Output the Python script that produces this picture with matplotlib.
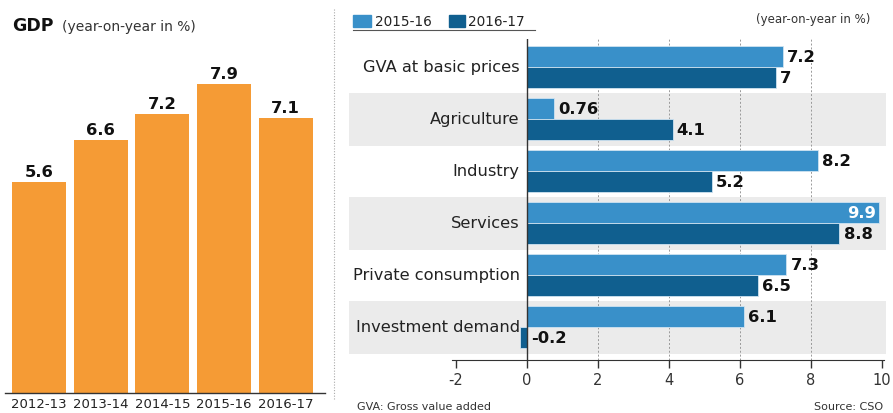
import matplotlib.pyplot as plt
import numpy as np

# left panel: GDP growth
years = ['2012-13', '2013-14', '2014-15', '2015-16', '2016-17']
gdp = [5.6, 6.6, 7.2, 7.9, 7.1]

# right panel: components
sectors = ['GVA at basic prices', 'Agriculture', 'Industry', 'Services',
           'Private consumption', 'Investment demand']
fy16 = [7.2, 0.76, 8.2, 9.9, 7.3, 6.1]
fy17 = [7.0, 4.1, 5.2, 8.8, 6.5, -0.2]
fy16_labels = ['7.2', '0.76', '8.2', '9.9', '7.3', '6.1']
fy17_labels = ['7', '4.1', '5.2', '8.8', '6.5', '-0.2']
xticks = [-2, 0, 2, 4, 6, 8, 10]

ORANGE = '#f59b35'
LIGHT = '#3990c9'
DARK = '#105f8f'
BAND = '#ebebeb'

W, H = 893, 414
fig = plt.figure(figsize=(W / 100, H / 100), dpi=100)


def box(x0, y0, x1, y1):
    # pixel box (top-left origin) -> figure fraction
    return [x0 / W, 1 - y1 / H, (x1 - x0) / W, (y1 - y0) / H]


# ---- left chart ----
ax1 = fig.add_axes(box(5, 40, 325, 394))
x = np.arange(len(years))
ax1.bar(x, gdp, width=0.877, color=ORANGE)
ax1.set_xlim(-0.552, 4.64)
ax1.set_ylim(0.64, 8.97)
for xi, v in zip(x, gdp):
    ax1.text(xi, v + 0.07, f'{v}', ha='center', va='bottom',
             fontsize=11.8, fontweight='bold', color='#111111')
for s in ['top', 'right', 'left']:
    ax1.spines[s].set_visible(False)
ax1.spines['bottom'].set_color('#333333')
ax1.spines['bottom'].set_linewidth(1.0)
ax1.set_yticks([])
ax1.set_xticks(x)
ax1.set_xticklabels(years, fontsize=9.5, color='#222222')
ax1.tick_params(axis='x', length=0, pad=3)

fig.text(12 / W, 1 - 26 / H, 'GDP', fontsize=12.5, fontweight='bold',
         va='center', ha='left', color='#111111')
fig.text(62 / W, 1 - 27 / H, '(year-on-year in %)', fontsize=10,
         va='center', ha='left', color='#333333')

# dotted separator
fig.add_artist(plt.Line2D([334 / W, 334 / W], [1 - 10 / H, 1 - 400 / H],
                          color='#aaaaaa', lw=0.8, ls=(0, (1, 1.5))))

# ---- right chart ----
ax2 = fig.add_axes(box(349, 40, 886, 361))
y = np.arange(len(sectors))
h = 0.4
for i in range(1, len(sectors), 2):
    ax2.axhspan(i - 0.5, i + 0.52, color=BAND, zorder=0, lw=0)
for gx in [2, 4, 6, 8]:
    ax2.axvline(gx, color='#999999', lw=0.7, ls=(0, (2, 2)), zorder=1)
ax2.barh(y - h / 2, fy16, height=h, color=LIGHT, edgecolor='#cfe3f1',
         lw=0.6, zorder=2)
ax2.barh(y + h / 2, fy17, height=h, color=DARK, edgecolor='#cfe3f1',
         lw=0.6, zorder=2)
ax2.axvline(0, color='#333333', lw=1.0, zorder=3)

for i in y:
    if fy16[i] > 9.5:
        ax2.text(fy16[i] - 0.08, i - h / 2, fy16_labels[i], ha='right',
                 va='center', fontsize=11.8, fontweight='bold', color='white',
                 zorder=4)
    else:
        ax2.text(fy16[i] + 0.12, i - h / 2, fy16_labels[i], ha='left',
                 va='center', fontsize=11.8, fontweight='bold',
                 color='#111111', zorder=4)
    ax2.text(max(fy17[i], 0) + 0.12, i + h / 2, fy17_labels[i], ha='left',
             va='center', fontsize=11.8, fontweight='bold', color='#111111',
             zorder=4)
    ax2.text(-0.2, i, sectors[i], ha='right', va='center', fontsize=11.7,
             color='#222222', zorder=4)

ax2.set_xlim(-5.01, 10.11)
ax2.set_ylim(5.635, -0.538)
ax2.set_yticks([])
ax2.set_xticks(xticks)
ax2.set_xticklabels([str(t) for t in xticks], fontsize=10.5, color='#333333')
ax2.tick_params(axis='x', direction='out', length=6, width=1.0,
                color='#333333', pad=3)
for s in ['top', 'right', 'left']:
    ax2.spines[s].set_visible(False)
ax2.spines['bottom'].set_bounds(-2.1, 10.05)
ax2.spines['bottom'].set_color('#333333')

# legend
fig.patches.append(plt.Rectangle((353 / W, 1 - 28 / H), 18 / W, 12 / H,
                                 color=LIGHT, transform=fig.transFigure))
fig.text(375 / W, 1 - 22 / H, '2015-16', fontsize=9.8, va='center',
         ha='left', color='#222222')
fig.patches.append(plt.Rectangle((449 / W, 1 - 28 / H), 16 / W, 12 / H,
                                 color=DARK, transform=fig.transFigure))
fig.text(468 / W, 1 - 22 / H, '2016-17', fontsize=9.8, va='center',
         ha='left', color='#222222')
fig.add_artist(plt.Line2D([353 / W, 535 / W], [1 - 31 / H, 1 - 31 / H],
                          color='#555555', lw=0.8))
fig.text(870 / W, 1 - 20 / H, '(year-on-year in %)', fontsize=8.5,
         va='center', ha='right', color='#333333')

# footer
fig.text(357 / W, 1 - 407 / H, 'GVA: Gross value added', fontsize=8,
         va='center', ha='left', color='#333333')
fig.text(883 / W, 1 - 407 / H, 'Source: CSO', fontsize=8,
         va='center', ha='right', color='#333333')

fig.savefig('out.png', dpi=100)
